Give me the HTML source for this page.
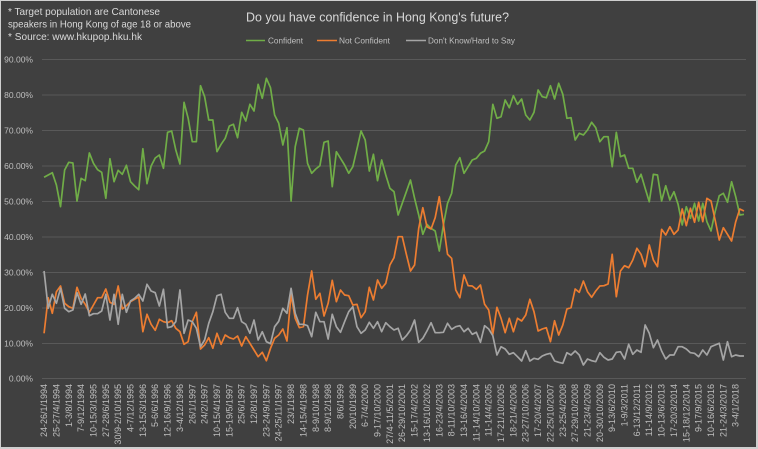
<!DOCTYPE html>
<html><head><meta charset="utf-8"><style>
html,body{margin:0;padding:0;background:#404040;}
svg{display:block;}
text{font-family:"Liberation Sans",sans-serif;}
.yl{font-size:8.5px;fill:#bfbfbf;text-anchor:end;}
.xl{font-size:9px;fill:#bfbfbf;text-anchor:end;}
.lg{font-size:8px;fill:#bfbfbf;}
.nt{font-size:10.5px;fill:#d9d9d9;}
</style></head><body>
<svg width="758" height="449" viewBox="0 0 758 449" xmlns="http://www.w3.org/2000/svg">
<rect x="0" y="0" width="758" height="449" fill="#cfcfcf"/>
<rect x="1" y="1" width="755" height="446" fill="#404040"/>
<g stroke="#595959" stroke-width="1">
<line x1="42" x2="746" y1="59.5" y2="59.5"/>
<line x1="42" x2="746" y1="95" y2="95"/>
<line x1="42" x2="746" y1="130.5" y2="130.5"/>
<line x1="42" x2="746" y1="166" y2="166"/>
<line x1="42" x2="746" y1="201.5" y2="201.5"/>
<line x1="42" x2="746" y1="237" y2="237"/>
<line x1="42" x2="746" y1="272.5" y2="272.5"/>
<line x1="42" x2="746" y1="308" y2="308"/>
<line x1="42" x2="746" y1="343.5" y2="343.5"/>
<line x1="42" x2="746" y1="378.5" y2="378.5"/>
</g>
<g class="yl">
<text class="yl" x="33" y="62.5">90.00%</text>
<text class="yl" x="33" y="98">80.00%</text>
<text class="yl" x="33" y="133.5">70.00%</text>
<text class="yl" x="33" y="169">60.00%</text>
<text class="yl" x="33" y="204.5">50.00%</text>
<text class="yl" x="33" y="240">40.00%</text>
<text class="yl" x="33" y="275.5">30.00%</text>
<text class="yl" x="33" y="311">20.00%</text>
<text class="yl" x="33" y="346.5">10.00%</text>
<text class="yl" x="33" y="381.5">0.00%</text>
</g>
<text class="nt" x="8" y="15" textLength="152" lengthAdjust="spacingAndGlyphs">* Target population are Cantonese</text>
<text class="nt" x="8" y="27.5" textLength="183" lengthAdjust="spacingAndGlyphs">speakers in Hong Kong of age 18 or above</text>
<text class="nt" x="8" y="40" textLength="134" lengthAdjust="spacingAndGlyphs">* Source: www.hkupop.hku.hk</text>
<text x="246" y="21.5" font-size="12.5" fill="#d9d9d9" textLength="263" lengthAdjust="spacingAndGlyphs">Do you have confidence in Hong Kong's future?</text>
<line x1="246" x2="265" y1="40.5" y2="40.5" stroke="#70ad47" stroke-width="1.6"/>
<text class="lg" x="268" y="43.5" textLength="35" lengthAdjust="spacingAndGlyphs">Confident</text>
<line x1="317" x2="337" y1="40.5" y2="40.5" stroke="#ed7d31" stroke-width="1.6"/>
<text class="lg" x="339" y="43.5" textLength="51" lengthAdjust="spacingAndGlyphs">Not Confident</text>
<line x1="406" x2="426" y1="40.5" y2="40.5" stroke="#a5a5a5" stroke-width="1.6"/>
<text class="lg" x="428" y="43.5" textLength="87" lengthAdjust="spacingAndGlyphs">Don't Know/Hard to Say</text>

<g transform="translate(44.06,0) scale(4.117,1)" fill="none" stroke-linejoin="round" stroke-width="1.7">
<polyline vector-effect="non-scaling-stroke" stroke="#70ad47" points="0,177.3 1,175 2,172.7 3,185 4,206.7 5,170 6,162.3 7,163 8,201 9,178.3 10,180.7 11,153 12,163.3 13,169.7 14,172.3 15,198.3 16,158.7 17,181.7 18,170.3 19,174.3 20,165.3 21,181.7 22,186 23,189.7 24,148.7 25,183.7 26,166 27,158 28,155 29,168.3 30,132.3 31,131 32,150 33,164 34,102.3 35,118.3 36,141.7 37,141.7 38,85.7 39,96.7 40,120 41,120 42,151.7 43,144.3 44,138.3 45,126 46,124.3 47,137.7 48,112.3 49,121 50,104.3 51,111 52,84.3 53,98.3 54,78.3 55,87.7 56,115 57,123.3 58,145 59,127.7 60,201 61,146.7 62,128.3 63,130 64,163.3 65,173.3 66,169 67,165.7 68,142.3 69,141 70,186.7 71,151.7 72,158.3 73,165 74,173.3 75,166.7 76,149 77,131 78,140 79,171 80,154.3 81,180.7 82,160 83,175 84,188.3 85,191.7 86,215 87,203.3 88,191.7 89,180 90,198.3 91,215 92,234.3 93,224.3 94,228.3 95,231 96,251 97,225 98,203.3 99,193.3 100,165 101,157.7 102,173.3 103,166.7 104,160 105,158.3 106,153.3 107,151 108,141.7 109,104.3 110,118.3 111,116.7 112,100 113,107.7 114,95.7 115,104.3 116,99 117,115 118,120 119,112.3 120,90 121,96.7 122,97.7 123,85.7 124,99 125,83.3 126,94.3 127,118.3 128,117.7 129,140 130,133.3 131,135 132,130 133,122.3 134,127.7 135,141.7 136,136.7 137,136.7 138,166.7 139,132.3 140,156.7 141,155 142,168.3 143,168.3 144,182.3 145,174.3 146,188.3 147,201.7 148,174.3 149,175 150,201 151,185.7 152,200 153,191.7 154,204.3 155,225 156,206.7 157,218.3 158,203.3 159,221 160,203.3 161,221.7 162,231 163,211.7 164,195.7 165,193.3 166,202.3 167,181.7 168,196.7 169,215 170,214.3"/>
<polyline vector-effect="non-scaling-stroke" stroke="#ed7d31" points="0,333.3 1,297.7 2,313.3 3,291.7 4,286 5,303.3 6,306.7 7,308.3 8,287.3 9,298.3 10,304.3 11,312.3 12,305 13,297.7 14,297.7 15,289 16,302.3 17,304.3 18,286 19,309 20,305.7 21,301.7 22,299.3 23,297 24,331.7 25,314.3 26,324.3 27,330.3 28,319.3 29,321.7 30,322.7 31,320.7 32,328.3 33,331.7 34,344.3 35,341.7 36,321.7 37,312.3 38,349 39,345 40,337.7 41,348.3 42,333.3 43,344.3 44,335 45,337.7 46,339 47,336 48,346 49,336.7 50,343.3 51,350 52,356.7 53,352.3 54,360.7 55,348.3 56,338.3 57,335 58,329 59,341 60,294.3 61,318.3 62,327.7 63,326.7 64,295 65,271 66,299.3 67,293.3 68,316 69,303.3 70,280.3 71,301.7 72,290 73,295 74,295.7 75,305 76,304.3 77,317.7 78,311.7 79,287.3 80,300 81,280 82,288.3 83,283.3 84,265 85,257.7 86,236.7 87,236.7 88,254.3 89,271 90,265 91,228.3 92,207.7 93,226.7 94,229 95,217.7 96,196.7 97,224.3 98,254.3 99,258.3 100,290 101,297.7 102,275 103,285.7 104,286 105,289.3 106,285 107,304.3 108,310 109,334.3 110,307.3 111,318.3 112,332.7 113,318.3 114,331.7 115,318.3 116,321 117,315 118,299.3 119,311.7 120,331 121,329 122,327.7 123,341.7 124,320.7 125,335 126,325 127,309 128,307.7 129,289 130,292.3 131,281 132,291.7 133,297.3 134,291 135,286 136,285.7 137,284 138,254.3 139,296.7 140,271 141,265.7 142,267.7 143,260 144,248.3 145,254.3 146,266.7 147,245 148,260 149,266.7 150,229.3 151,235 152,226.7 153,234.3 154,230 155,209 156,225.7 157,208.3 158,222.3 159,202.3 160,221.7 161,198.3 162,201 163,220 164,240 165,227.7 166,234.3 167,241 168,221.7 169,209 170,211"/>
<polyline vector-effect="non-scaling-stroke" stroke="#a5a5a5" points="0,271 1,308.3 2,294.3 3,303.3 4,288.3 5,308.3 6,311.7 7,310 8,292.7 9,304.3 10,294 11,315.7 12,313.7 13,313.7 14,311 15,294.3 16,320 17,294.3 18,324.3 19,294.3 20,312.3 21,301 22,298.3 23,294.3 24,301 25,284.3 26,291 27,292.7 28,306 29,289.3 30,327.7 31,326.7 32,321.7 33,290 34,333.3 35,320 36,321.7 37,328.3 38,346.7 39,340 40,323.3 41,311.7 42,295.7 43,294.3 44,312.3 45,318.3 46,318.3 47,307.7 48,321.7 49,324.3 50,333.3 51,320 52,340 53,331.7 54,341.7 55,343.7 56,326.7 57,321.3 58,308.3 59,313.3 60,288.3 61,313.3 62,324.3 63,324.3 64,325.7 65,336.7 66,312.3 67,321.7 68,321.7 69,339 70,314.3 71,326.7 72,332.3 73,321.7 74,311.7 75,306.7 76,326.7 77,333.3 78,330 79,322.3 80,328.3 81,321.7 82,331.7 83,322.7 84,326.7 85,330 86,328.3 87,340 88,335.7 89,330 90,320 91,342.3 92,338.3 93,331 94,322.7 95,332.7 96,332.7 97,332.3 98,323.3 99,329.3 100,326.7 101,325.7 102,331.7 103,328.3 104,334.3 105,332.3 106,342.3 107,325.7 108,329 109,335.7 110,355 111,346.7 112,349 113,354.3 114,352.7 115,356.7 116,361 117,350.7 118,361 119,358.3 120,359.3 121,356 122,354.3 123,353.3 124,361 125,362.3 126,363.3 127,352.7 128,355 129,351 130,355 131,365 132,359 133,360.7 134,361.7 135,352.7 136,357.3 137,360 138,359 139,352.3 140,351.7 141,359 142,344.3 143,354.3 144,350 145,352.3 146,325 147,333.3 148,347.7 149,340 150,351 151,359 152,355 153,355 154,346.7 155,346.7 156,349 157,352.7 158,353.3 159,356.7 160,350 161,355 162,346.7 163,345 164,343.3 165,360 166,341.7 167,356.7 168,355 169,356 170,356"/>
</g>

<g class="xl">
<text class="xl" transform="translate(47.06,384) rotate(-90)">24-26/1/1994</text>
<text class="xl" transform="translate(59.41,384) rotate(-90)">25-27/4/1994</text>
<text class="xl" transform="translate(71.76,384) rotate(-90)">1-3/8/1994</text>
<text class="xl" transform="translate(84.11,384) rotate(-90)">7-9/12/1994</text>
<text class="xl" transform="translate(96.46,384) rotate(-90)">10-15/3/1995</text>
<text class="xl" transform="translate(108.81,384) rotate(-90)">27-28/6/1995</text>
<text class="xl" transform="translate(121.16,384) rotate(-90)">30/9-2/10/1995</text>
<text class="xl" transform="translate(133.51,384) rotate(-90)">4-7/12/1995</text>
<text class="xl" transform="translate(145.86,384) rotate(-90)">13-15/3/1996</text>
<text class="xl" transform="translate(158.21,384) rotate(-90)">5-6/6/1996</text>
<text class="xl" transform="translate(170.56,384) rotate(-90)">12-16/9/1996</text>
<text class="xl" transform="translate(182.91,384) rotate(-90)">3-4/12/1996</text>
<text class="xl" transform="translate(195.26,384) rotate(-90)">26/1/1997</text>
<text class="xl" transform="translate(207.61,384) rotate(-90)">24/2/1997</text>
<text class="xl" transform="translate(219.96,384) rotate(-90)">10-15/4/1997</text>
<text class="xl" transform="translate(232.31,384) rotate(-90)">15-19/5/1997</text>
<text class="xl" transform="translate(244.66,384) rotate(-90)">25/6/1997</text>
<text class="xl" transform="translate(257.01,384) rotate(-90)">12/8/1997</text>
<text class="xl" transform="translate(269.36,384) rotate(-90)">23-24/9/1997</text>
<text class="xl" transform="translate(281.71,384) rotate(-90)">24-25/11/1997</text>
<text class="xl" transform="translate(294.06,384) rotate(-90)">23/1/1998</text>
<text class="xl" transform="translate(306.41,384) rotate(-90)">14-15/4/1998</text>
<text class="xl" transform="translate(318.76,384) rotate(-90)">8-9/10/1998</text>
<text class="xl" transform="translate(331.11,384) rotate(-90)">8-9/12/1998</text>
<text class="xl" transform="translate(343.46,384) rotate(-90)">8/6/1999</text>
<text class="xl" transform="translate(355.81,384) rotate(-90)">20/10/1999</text>
<text class="xl" transform="translate(368.16,384) rotate(-90)">6-7/4/2000</text>
<text class="xl" transform="translate(380.51,384) rotate(-90)">9-17/10/2000</text>
<text class="xl" transform="translate(392.86,384) rotate(-90)">27/4-11/5/2001</text>
<text class="xl" transform="translate(405.21,384) rotate(-90)">26-29/10/2001</text>
<text class="xl" transform="translate(417.56,384) rotate(-90)">15-17/4/2002</text>
<text class="xl" transform="translate(429.91,384) rotate(-90)">13-16/10/2002</text>
<text class="xl" transform="translate(442.26,384) rotate(-90)">16-23/4/2003</text>
<text class="xl" transform="translate(454.61,384) rotate(-90)">8-11/10/2003</text>
<text class="xl" transform="translate(466.96,384) rotate(-90)">13-16/4/2004</text>
<text class="xl" transform="translate(479.31,384) rotate(-90)">11-14/10/2004</text>
<text class="xl" transform="translate(491.66,384) rotate(-90)">11-14/4/2005</text>
<text class="xl" transform="translate(504.01,384) rotate(-90)">17-21/10/2005</text>
<text class="xl" transform="translate(516.36,384) rotate(-90)">18-21/4/2006</text>
<text class="xl" transform="translate(528.71,384) rotate(-90)">23-27/10/2006</text>
<text class="xl" transform="translate(541.06,384) rotate(-90)">17-20/4/2007</text>
<text class="xl" transform="translate(553.41,384) rotate(-90)">22-25/10/2007</text>
<text class="xl" transform="translate(565.76,384) rotate(-90)">23-25/4/2008</text>
<text class="xl" transform="translate(578.11,384) rotate(-90)">27-29/10/2008</text>
<text class="xl" transform="translate(590.46,384) rotate(-90)">21-23/4/2009</text>
<text class="xl" transform="translate(602.81,384) rotate(-90)">20-30/10/2009</text>
<text class="xl" transform="translate(615.16,384) rotate(-90)">9-13/6/2010</text>
<text class="xl" transform="translate(627.51,384) rotate(-90)">1-9/3/2011</text>
<text class="xl" transform="translate(639.86,384) rotate(-90)">6-13/12/2011</text>
<text class="xl" transform="translate(652.21,384) rotate(-90)">11-14/9/2012</text>
<text class="xl" transform="translate(664.56,384) rotate(-90)">10-13/6/2013</text>
<text class="xl" transform="translate(676.91,384) rotate(-90)">17-20/3/2014</text>
<text class="xl" transform="translate(689.26,384) rotate(-90)">15-18/12/2014</text>
<text class="xl" transform="translate(701.61,384) rotate(-90)">9-17/9/2015</text>
<text class="xl" transform="translate(713.96,384) rotate(-90)">10-16/6/2016</text>
<text class="xl" transform="translate(726.31,384) rotate(-90)">21-24/3/2017</text>
<text class="xl" transform="translate(738.66,384) rotate(-90)">3-4/1/2018</text>
</g>
</svg>
</body></html>
